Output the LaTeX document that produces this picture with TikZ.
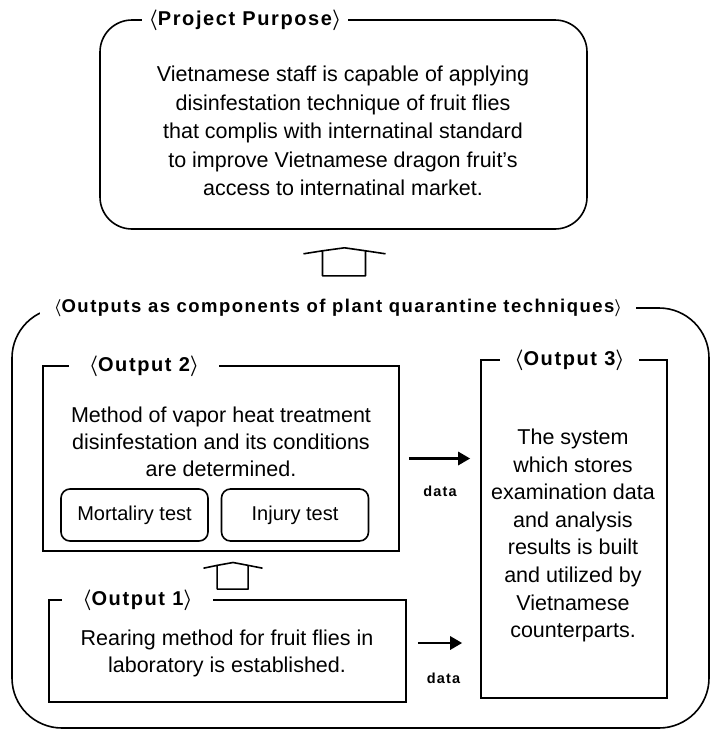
\documentclass[tikz,border=0pt]{standalone}
\usepackage{amsmath,amssymb}
\usepackage{fontspec}
\setmainfont{Liberation Sans}
\newfontfamily\headfont{Liberation Sans}[LetterSpace=8]
\newcommand{\lbr}{$\boldsymbol{\langle}$}
\newcommand{\rbr}{$\boldsymbol{\rangle}$}
\usepackage{tikz}
\usetikzlibrary{positioning,arrows.meta,calc}

\tikzset{
  hollowup/.pic={
    \draw[line width=1.6pt, line join=round]
      (-41,-8) -- (-22,-11) -- (0,-14) -- (21,-11) -- (41,-8)
      (-22,-11) -- (-22,14) -- (21,14) -- (21,-11);
  }
}

\begin{document}
\begin{tikzpicture}[
  x=1pt, y=-1pt,
  frame/.style={draw, line width=1.6pt, inner sep=0pt},
  purposebox/.style={frame, rounded corners=32pt, minimum width=487pt, minimum height=209pt},
  outerbox/.style={frame, rounded corners=50pt, minimum width=697pt, minimum height=420pt},
  outbox/.style={frame},
  testbox/.style={frame, rounded corners=9pt, minimum width=147pt, minimum height=52pt,
                  font=\fontsize{20}{22}\selectfont},
  body/.style={align=center, inner sep=0pt, font=\fontsize{21.5}{27}\selectfont},
  ttl/.style={fill=white, inner ysep=2pt, font=\headfont\bfseries\fontsize{20}{22}\selectfont},
  datalbl/.style={inner sep=0pt, font=\headfont\bfseries\fontsize{14.5}{16}\selectfont},
  dataarr/.style={-{Triangle[length=12pt, width=13pt]}, line width=2.8pt}
]
\useasboundingbox (0,0) rectangle (711,731);

% Project purpose
\node[purposebox] (purpose) at (343.5,124.5) {};
\node[body, font=\fontsize{21.5}{28.5}\selectfont] (purposetxt) at (343,131)
  {Vietnamese staff is capable of applying\\
   disinfestation technique of fruit flies\\
   that complis with internatinal standard\\
   to improve Vietnamese dragon fruit's\\
   access to internatinal market.};
\node[ttl, inner xsep=7pt] (purposettl) at (245,20) {\lbr Project Purpose\rbr};

% Outputs frame
\node[outerbox] (outer) at (360.5,518) {};
\node[ttl, inner xsep=14pt, font=\headfont\bfseries\fontsize{18.5}{20}\selectfont] (outerttl) at (338,308)
  {\lbr Outputs as components of plant quarantine techniques\rbr};

% Output 2
\node[outbox, minimum width=356pt, minimum height=185pt] (out2) at (221,458.5) {};
\node[ttl, inner xsep=20pt] (out2ttl) at (144,366) {\lbr Output 2\rbr};
\node[body] (out2txt) at (221,441.5)
  {Method of vapor heat treatment\\
   disinfestation and its conditions\\
   are determined.};
\node[testbox] (mort) at (134.5,515) {Mortaliry test};
\node[testbox] (inj) at (295,515) {Injury test};

% Output 1
\node[outbox, minimum width=357pt, minimum height=102pt] (out1) at (227.5,651) {};
\node[ttl, inner xsep=20pt] (out1ttl) at (137.5,600) {\lbr Output 1\rbr};
\node[body] (out1txt) at (227,653.5)
  {Rearing method for fruit flies in\\
   laboratory is established.};

% Output 3
\node[outbox, minimum width=186pt, minimum height=338pt] (out3) at (574,529) {};
\node[ttl, inner xsep=14pt] (out3ttl) at (569.5,360) {\lbr Output 3\rbr};
\node[body, font=\fontsize{21.5}{27.6}\selectfont] (out3txt) at (573,535.5)
  {The system\\
   which stores\\
   examination data\\
   and analysis\\
   results is built\\
   and utilized by\\
   Vietnamese\\
   counterparts.};

% Hollow arrows
\coordinate (lift1) at ($(purpose.south)+(1,32)$);
\coordinate (lift2) at ($(out2.south)+(12,24)$);
\pic at (lift1) {hollowup};
\pic[xscale=0.72, yscale=0.95] at (lift2) {hollowup};

% Data arrows
\draw[dataarr, shorten <=9pt, shorten >=10pt] (out2.east) -- (out2.east -| out3.west)
  node[datalbl, midway, below=26pt] {data};
\coordinate (d2) at ([yshift=8pt]out1.east);
\draw[dataarr, shorten <=11pt, shorten >=18pt] (d2) -- (d2 -| out3.west)
  node[datalbl, midway, below=29pt] {data};

\end{tikzpicture}
\end{document}
